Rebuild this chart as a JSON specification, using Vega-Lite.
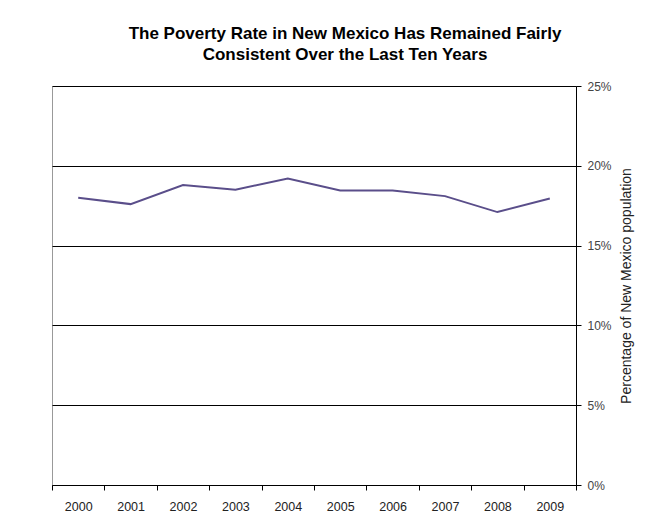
{
  "$schema": "https://vega.github.io/schema/vega-lite/v6.json",
  "autosize": {"type": "none"},
  "padding": {"left": 52, "top": 86, "right": 80, "bottom": 44},
  "width": 524,
  "height": 399,
  "background": "white",
  "title": {
    "text": ["The Poverty Rate in New Mexico Has Remained Fairly", "Consistent Over the Last Ten Years"],
    "font": "Liberation Sans",
    "fontSize": 17,
    "fontWeight": "bold",
    "color": "#000000",
    "lineHeight": 21,
    "anchor": "middle",
    "frame": "group",
    "dx": 31,
    "offset": 16
  },
  "data": {
    "values": [
      {"year": "2000", "rate": 18.0},
      {"year": "2001", "rate": 17.6},
      {"year": "2002", "rate": 18.8},
      {"year": "2003", "rate": 18.5},
      {"year": "2004", "rate": 19.2},
      {"year": "2005", "rate": 18.45},
      {"year": "2006", "rate": 18.45},
      {"year": "2007", "rate": 18.1},
      {"year": "2008", "rate": 17.1},
      {"year": "2009", "rate": 17.95}
    ]
  },
  "mark": {"type": "line", "color": "#5a4e8a", "strokeWidth": 2},
  "encoding": {
    "x": {
      "field": "year",
      "type": "ordinal",
      "bandPosition": 0.5,
      "scale": {"type": "band", "paddingInner": 0, "paddingOuter": 0},
      "axis": {
        "title": null,
        "labelAngle": 0,
        "tickBand": "extent",
        "domainColor": "#000000",
        "tickColor": "#000000",
        "tickSize": 5,
        "labelPadding": 10,
        "labelFont": "Liberation Sans",
        "labelFontSize": 12.5,
        "labelColor": "#222222",
        "grid": false
      }
    },
    "y": {
      "field": "rate",
      "type": "quantitative",
      "scale": {"domain": [0, 25], "nice": false, "zero": true},
      "axis": {
        "orient": "right",
        "values": [0, 5, 10, 15, 20, 25],
        "labelExpr": "datum.value + '%'",
        "title": "Percentage of New Mexico population",
        "titleAngle": 270,
        "titleFont": "Liberation Sans",
        "titleFontSize": 14,
        "titleFontWeight": "normal",
        "titleColor": "#222222",
        "titlePadding": 22,
        "labelFont": "Liberation Sans",
        "labelFontSize": 12,
        "labelColor": "#444444",
        "labelPadding": 6,
        "domainColor": "#000000",
        "tickColor": "#000000",
        "tickSize": 5,
        "grid": true,
        "gridColor": "#000000",
        "gridWidth": 1,
        "gridOpacity": 1
      }
    }
  },
  "config": {
    "view": {"stroke": "#999999", "strokeWidth": 1}
  }
}
